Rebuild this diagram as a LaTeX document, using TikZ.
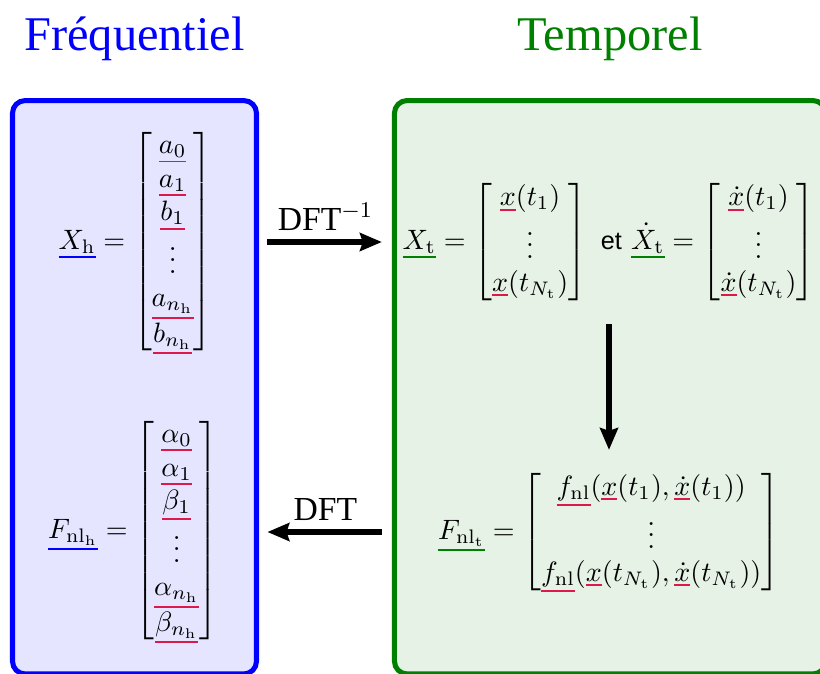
\documentclass[tikz,border=0pt]{standalone}
\usepackage{amsmath}
\usepackage{fontspec}
\newfontfamily\titrefont{Liberation Serif}
\newfontfamily\etfont{Liberation Sans}
\usepackage{tikz}
\usetikzlibrary{arrows.meta,positioning}

\definecolor{vert}{rgb}{0,0.5,0}
\definecolor{rouge}{rgb}{0.86,0.1,0.3}

% vecteurs soulignes en couleur
\makeatletter
\newcommand{\ulcol}[2]{\mathpalette{\ulcol@{#1}}{#2}}
\newcommand{\ulcol@}[3]{%
  \setbox\z@\hbox{$\m@th#2#3$}%
  \vtop{\copy\z@\kern1pt{\color{#1}\hrule height 0.7pt}}}
\makeatother
\newcommand{\ulb}[1]{\ulcol{blue}{#1}}
\newcommand{\ulg}[1]{\ulcol{vert}{#1}}
\newcommand{\ulr}[1]{\ulcol{rouge}{#1}}

\begin{document}
\begin{tikzpicture}[
    x=0.357pt, y=-0.357pt,
    freqbox/.style={
      rectangle, rounded corners=4.5pt, draw=blue, line width=1.8pt,
      fill=blue!10, minimum width=87.1pt, minimum height=204.7pt, inner sep=0pt
    },
    tempbox/.style={
      rectangle, rounded corners=4.5pt, draw=vert, line width=1.8pt,
      fill=vert!10, minimum width=153.9pt, minimum height=204.7pt, inner sep=0pt
    },
    titre/.style={font=\LARGE\titrefont, anchor=base},
    etiq/.style={font=\large\titrefont},
    fleche/.style={-{Stealth[length=7.8pt, width=6.4pt, inset=1pt]}, line width=1.8pt}
  ]
    \useasboundingbox (0,0) rectangle (820,673);

    % les deux domaines
    \node[freqbox] (freq) at (134.5,387.25) {};
    \node[tempbox] (temp) at (610,387.25) {};
    \node[titre, text=blue] (tfreq) at (134.5,50) {Fréquentiel};
    \node[titre, text=vert] (ttemp) at (610,50) {Temporel};

    % vecteurs
    \node (xh) at (135.5,242) {$\ulb{X_\mathrm{h}} = \begin{bmatrix}
        \ulr{a_0}\\ \ulr{a_1}\\ \ulr{b_1}\\ \vdots\\ \ulr{a_{n_\mathrm{h}}}\\ \ulr{b_{n_\mathrm{h}}}
      \end{bmatrix}$};
    \node (fnlh) at (133,531) {$\ulb{F_{\mathrm{nl}_\mathrm{h}}} = \begin{bmatrix}
        \ulr{\alpha_0}\\ \ulr{\alpha_1}\\ \ulr{\beta_1}\\ \vdots\\ \ulr{\alpha_{n_\mathrm{h}}}\\ \ulr{\beta_{n_\mathrm{h}}}
      \end{bmatrix}$};
    \node (xt) at (609,242) {$\ulg{X_\mathrm{t}} = \begin{bmatrix}
        \ulr{x}(t_1)\\ \vdots\\ \ulr{x}(t_{N_\mathrm{t}})
      \end{bmatrix}\ \text{\small\etfont et}\ \ulg{\dot{X}_\mathrm{t}} = \begin{bmatrix}
        \ulr{\dot{x}}(t_1)\\ \vdots\\ \ulr{\dot{x}}(t_{N_\mathrm{t}})
      \end{bmatrix}$};
    \node (fnlt) at (609,532) {$\ulg{F_{\mathrm{nl}_\mathrm{t}}} = \begin{bmatrix}
        \ulr{f_\mathrm{nl}}(\ulr{x}(t_1), \ulr{\dot{x}}(t_1))\\ \vdots\\
        \ulr{f_\mathrm{nl}}(\ulr{x}(t_{N_\mathrm{t}}), \ulr{\dot{x}}(t_{N_\mathrm{t}}))
      \end{bmatrix}$};

    % passages entre domaines
    \draw[fleche, shorten <=3pt, shorten >=3.6pt] (freq.east |- xt) -- node[above, etiq]{DFT$^{-1}$} (temp.west |- xt);
    \draw[fleche, shorten <=3.6pt, shorten >=3pt] (temp.west |- fnlt) -- node[above, etiq]{DFT} (freq.east |- fnlt);
    \draw[fleche, shorten <=4.4pt, shorten >=4.4pt] (xt.south) -- (fnlt.north);

  \end{tikzpicture}
\end{document}
